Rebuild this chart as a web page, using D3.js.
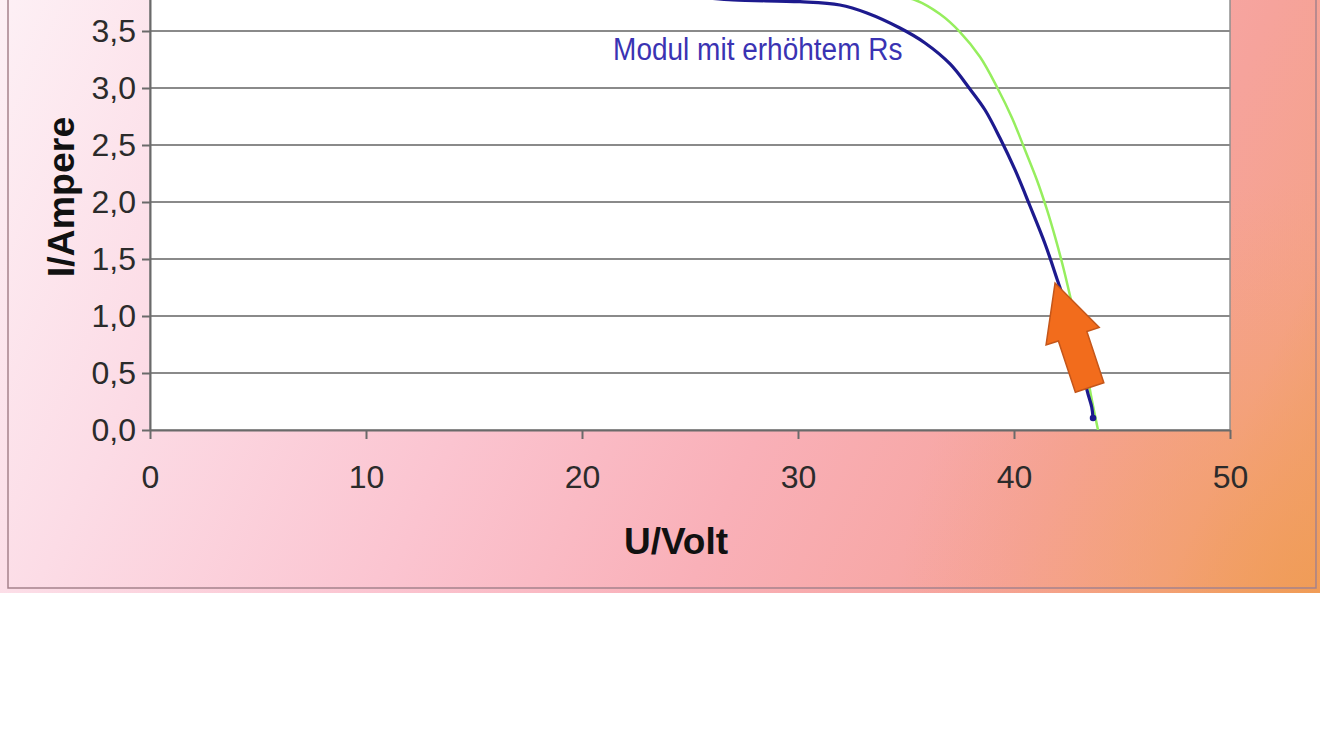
<!DOCTYPE html>
<html><head><meta charset="utf-8">
<script src="https://cdn.jsdelivr.net/npm/d3@7"></script>
<style>html,body{margin:0;padding:0;background:#fff;overflow:hidden}</style>
</head><body>
<svg id="c" width="1320" height="742"></svg>
<script>
// ---- data ----
const xTicks = [0, 10, 20, 30, 40, 50];
const yTicks = [0, 0.5, 1.0, 1.5, 2.0, 2.5, 3.0, 3.5];
const blueU = [0, 10, 20, 25, 26.99, 30.09, 31.94, 33.19, 34.72, 35.88, 37.04, 37.96, 38.66, 39.35, 40.05, 40.74, 41.44, 42.04, 42.6, 43.06, 43.38, 43.6, 43.66];
const blueI = [3.87, 3.85, 3.82, 3.80, 3.772, 3.757, 3.728, 3.658, 3.526, 3.395, 3.211, 2.991, 2.807, 2.561, 2.281, 1.965, 1.632, 1.298, 0.98, 0.68, 0.35, 0.20, 0.105];
const greenU = [0, 20, 30, 34, 35.42, 36.57, 37.5, 38.43, 39.21, 39.91, 40.51, 41.06, 41.53, 41.94, 42.31, 42.64, 42.96, 43.29, 43.56, 43.89];
const greenI = [3.96, 3.92, 3.87, 3.82, 3.772, 3.649, 3.491, 3.272, 3.009, 2.737, 2.456, 2.193, 1.93, 1.667, 1.404, 1.14, 0.877, 0.596, 0.307, 0.0];
const xTitle = "U/Volt";
const yTitle = "I/Ampere";
const curveLabel = "Modul mit erhöhtem Rs";
const labelPos = [21.44, 3.25];          // U, I of label start (baseline)
const arrowTip = [41.9, 1.289];          // U, I
const arrowTail = [43.5, 0.373];         // U, I

// ---- layout ----
const svg = d3.select("#c");
const X0 = 150, X1 = 1230, Y0 = 430, PX_PER_A = 114;
const x = d3.scaleLinear().domain([0, 50]).range([X0, X1]);
const y = d3.scaleLinear().domain([0, 4]).range([Y0, Y0 - 4 * PX_PER_A]);

const defs = svg.append("defs");
const g = defs.append("linearGradient").attr("id", "bg").attr("gradientUnits", "userSpaceOnUse")
  .attr("x1", 0).attr("y1", 0).attr("x2", 1320).attr("y2", 600);
[[0, "#fdf0f5"], [0.19, "#fcdce6"], [0.41, "#fbc4d0"], [0.6, "#f9b0b8"], [0.8, "#f6a39c"], [0.9, "#f5a28a"], [1, "#f09c56"]]
  .forEach(([o, c]) => g.append("stop").attr("offset", o).attr("stop-color", c));
const rg = defs.append("radialGradient").attr("id", "glow").attr("gradientUnits", "userSpaceOnUse")
  .attr("cx", 1320).attr("cy", 600).attr("r", 420);
[[0, "#f09c56", 0.9], [0.5, "#f2a068", 0.45], [1, "#f4a07a", 0]]
  .forEach(([o, c, a]) => rg.append("stop").attr("offset", o).attr("stop-color", c).attr("stop-opacity", a));

svg.append("rect").attr("x", 0).attr("y", -200).attr("width", 1320).attr("height", 793).attr("fill", "url(#bg)");
svg.append("rect").attr("x", 0).attr("y", -200).attr("width", 1320).attr("height", 793).attr("fill", "url(#glow)");
svg.append("rect").attr("x", 8).attr("y", -10).attr("width", 1308).attr("height", 598)
  .attr("fill", "none").attr("stroke", "#a5828c").attr("stroke-width", 1.5);

// plot area
svg.append("rect").attr("x", X0).attr("y", y(4)).attr("width", X1 - X0).attr("height", Y0 - y(4))
  .attr("fill", "#ffffff").attr("stroke", "#8f8f8f").attr("stroke-width", 1.5);

// gridlines
svg.append("g").selectAll("line").data(yTicks.filter(d => d > 0)).join("line")
  .attr("x1", X0).attr("x2", X1).attr("y1", d => y(d)).attr("y2", d => y(d))
  .attr("stroke", "#8a8a8a").attr("stroke-width", 2);

const fmt = d => d3.format(".1f")(d).replace(".", ",");
const font = "'Liberation Sans', Arial, sans-serif";

// y axis
const ya = svg.append("g").attr("transform", `translate(${X0},0)`)
  .call(d3.axisLeft(y).tickValues(yTicks).tickFormat(fmt).tickSizeInner(8).tickSizeOuter(0).tickPadding(6));
ya.select(".domain").attr("stroke", "#6a6a6a").attr("stroke-width", 2);
ya.selectAll(".tick line").attr("stroke", "#6a6a6a").attr("stroke-width", 2);
ya.selectAll(".tick text").attr("font-family", font).attr("font-size", 32).attr("fill", "#2b2b2b");

// x axis
const xa = svg.append("g").attr("transform", `translate(0,${Y0})`)
  .call(d3.axisBottom(x).tickValues(xTicks).tickFormat(d3.format("d")).tickSizeInner(9).tickSizeOuter(0).tickPadding(26));
xa.select(".domain").attr("stroke", "#6a6a6a").attr("stroke-width", 2);
xa.selectAll(".tick line").attr("stroke", "#6a6a6a").attr("stroke-width", 2);
xa.selectAll(".tick text").attr("font-family", font).attr("font-size", 32).attr("fill", "#2b2b2b");

// titles
svg.append("text").attr("x", 676).attr("y", 554).attr("text-anchor", "middle")
  .attr("font-family", font).attr("font-weight", "bold").attr("font-size", 37).attr("fill", "#111")
  .text(xTitle);
svg.append("text").attr("transform", "translate(74,197) rotate(-90)").attr("text-anchor", "middle")
  .attr("font-family", font).attr("font-weight", "bold").attr("font-size", 37.5).attr("fill", "#111")
  .text(yTitle);

// curves
const line = d3.line().x(d => x(d[0])).y(d => y(d[1])).curve(d3.curveCatmullRom.alpha(0.5));
const clip = defs.append("clipPath").attr("id", "plotclip");
clip.append("rect").attr("x", X0).attr("y", y(4)).attr("width", X1 - X0).attr("height", Y0 - y(4));
const greenData = greenU.map((u, i) => [u, greenI[i]]);
const blueData = blueU.map((u, i) => [u, blueI[i]]);
const curves = svg.append("g").attr("clip-path", "url(#plotclip)");
curves.append("path").datum(greenData).attr("d", line).attr("fill", "none")
  .attr("stroke", "#96ee5e").attr("stroke-width", 2.5);
curves.append("path").datum(blueData).attr("d", line).attr("fill", "none")
  .attr("stroke", "#1d1a8e").attr("stroke-width", 3.2);
const lastB = blueData[blueData.length - 1];
svg.append("circle").attr("cx", x(lastB[0])).attr("cy", y(lastB[1])).attr("r", 3.3).attr("fill", "#1d1a8e");

// label
svg.append("text").attr("transform", `translate(${x(labelPos[0])},${y(labelPos[1])}) scale(1,1.1)`)
  .attr("font-family", font).attr("font-size", 28).attr("fill", "#3a33b3")
  .text(curveLabel);

// arrow
(function () {
  const tx = x(arrowTip[0]), ty = y(arrowTip[1]);
  const bx = x(arrowTail[0]), by = y(arrowTail[1]);
  const L = Math.hypot(tx - bx, ty - by);
  const ux = (tx - bx) / L, uy = (ty - by) / L;   // along
  const px = -uy, py = ux;                          // perpendicular
  const headLen = 56, headHalf = 28, shaftHalf = 15;
  const pt = (a, p) => [bx + ux * a + px * p, by + uy * a + py * p];
  const pts = [pt(0, -shaftHalf), pt(L - headLen, -shaftHalf), pt(L - headLen, -headHalf), pt(L, 0),
               pt(L - headLen, headHalf), pt(L - headLen, shaftHalf), pt(0, shaftHalf)];
  svg.append("polygon").attr("points", pts.map(p => p.join(",")).join(" "))
    .attr("fill", "#f26c1c").attr("stroke", "#c4561a").attr("stroke-width", 1.5).attr("stroke-linejoin", "miter");
})();
</script>
</body></html>
